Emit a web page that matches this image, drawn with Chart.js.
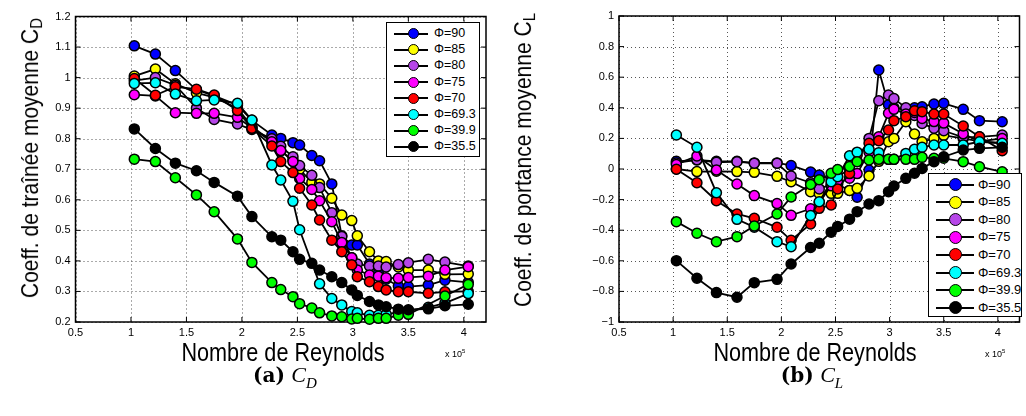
<!DOCTYPE html>
<html>
<head>
<meta charset="utf-8">
<script src="https://cdn.jsdelivr.net/npm/chart.js@4.4.1/dist/chart.umd.min.js"></script>
<style>
  body { margin: 0; background: #fff; font-family: "Liberation Sans", Arial, sans-serif; }
  #page { position: relative; width: 1026px; height: 416px; overflow: hidden; }
  canvas { position: absolute; top: 0; }
  .lbl { position: absolute; white-space: nowrap; color: #000; }
  .ytitle { font-size: 21px; transform: translate(-50%, -50%) rotate(-90deg) scale(1, 1.15); }
  .xtitle { font-size: 21px; transform: translate(-50%, -50%) scale(1.03, 1.2); }
  .ytitle sub, .xtitle sub { font-size: 15px; vertical-align: -4px; }
  .mult { font-size: 9px; }
  .mult sup { font-size: 6px; }
  .caption { font-family: "DejaVu Serif", "Liberation Serif", serif; font-size: 20px; transform: translate(-50%, -50%); }
  .caption b { font-weight: bold; }
  .caption i { font-family: "Liberation Serif", serif; font-size: 22px; }
  .caption i sub { font-size: 15px; }
  .legend { position: absolute; background: #fff; border: 1px solid #000; box-sizing: border-box; }
  .row { position: absolute; left: 0; height: 16px; }
  .row .line { position: absolute; height: 2px; background: #000; }
  .row .dot { position: absolute; border: 1.5px solid #000; border-radius: 50%; box-sizing: border-box; }
  .row span { position: absolute; }
</style>
</head>
<body>
<div id="page">
  <canvas id="cdChart" width="500" height="416" style="left:0"></canvas>
  <canvas id="clChart" width="526" height="416" style="left:500px"></canvas>

  <div class="lbl ytitle" style="left:31px; top:158px">Coeff. de traînée moyenne C<sub>D</sub></div>
  <div class="lbl ytitle" style="left:524px; top:160px">Coeff. de portance moyenne C<sub>L</sub></div>
  <div class="lbl xtitle" style="left:283px; top:353px">Nombre de Reynolds</div>
  <div class="lbl xtitle" style="left:815px; top:353px">Nombre de Reynolds</div>
  <div class="lbl mult" style="left:445px; top:348px">x 10<sup>5</sup></div>
  <div class="lbl mult" style="left:985px; top:348px">x 10<sup>5</sup></div>
  <div class="lbl caption" style="left:285px; top:377px"><b>(a)</b> <i>C<sub>D</sub></i></div>
  <div class="lbl caption" style="left:812px; top:377px"><b>(b)</b> <i>C<sub>L</sub></i></div>
</div>

<script>
// Nombre de Reynolds (x 10^5), points communs aux deux graphes
const reynolds = [1.03, 1.22, 1.40, 1.59, 1.75, 1.96, 2.09, 2.27, 2.35, 2.46, 2.52, 2.63, 2.70,
                  2.81, 2.90, 2.99, 3.04, 3.15, 3.23, 3.30, 3.41, 3.50, 3.68, 3.83, 4.04];

const phiLabels = ['\u03A6=90', '\u03A6=85', '\u03A6=80', '\u03A6=75', '\u03A6=70', '\u03A6=69.3', '\u03A6=39.9', '\u03A6=35.5'];
const phiColors = ['#0000ff', '#ffff00', '#b646e8', '#ff00ff', '#ff0000', '#00ffff', '#00ff00', '#000000'];

const xTicks = [0.5, 1, 1.5, 2, 2.5, 3, 3.5, 4];
const cdTicks = [0.2, 0.3, 0.4, 0.5, 0.6, 0.7, 0.8, 0.9, 1, 1.1, 1.2];
const clTicks = [-1, -0.8, -0.6, -0.4, -0.2, 0, 0.2, 0.4, 0.6, 0.8, 1];

// Coefficient de traînée moyen C_D
const cd90   = [1.104, 1.077, 1.023, 0.960, 0.940, 0.910, 0.860, 0.812, 0.801, 0.787, 0.779, 0.745, 0.728,
                0.652, 0.482, 0.452, 0.452, 0.390, 0.360, 0.340, 0.318, 0.316, 0.321, 0.337, 0.330];
const cd85   = [1.005, 1.028, 0.980, 0.950, 0.935, 0.900, 0.840, 0.790, 0.760, 0.730, 0.700, 0.657, 0.652,
                0.605, 0.550, 0.532, 0.482, 0.430, 0.400, 0.398, 0.380, 0.370, 0.370, 0.356, 0.357];
const cd80   = [0.990, 1.000, 0.975, 0.900, 0.863, 0.848, 0.830, 0.800, 0.775, 0.741, 0.712, 0.680, 0.640,
                0.558, 0.480, 0.410, 0.390, 0.383, 0.383, 0.380, 0.388, 0.394, 0.405, 0.396, 0.383];
const cd75   = [0.944, 0.940, 0.885, 0.883, 0.883, 0.870, 0.835, 0.790, 0.761, 0.725, 0.670, 0.634, 0.597,
                0.528, 0.460, 0.410, 0.370, 0.354, 0.350, 0.345, 0.343, 0.346, 0.350, 0.370, 0.381];
const cd70   = [0.997, 0.942, 0.970, 0.962, 0.943, 0.892, 0.834, 0.776, 0.725, 0.689, 0.638, 0.583, 0.534,
                0.468, 0.430, 0.387, 0.348, 0.332, 0.316, 0.305, 0.299, 0.299, 0.294, 0.299, 0.300];
const cd69_3 = [0.981, 0.983, 0.946, 0.924, 0.927, 0.916, 0.861, 0.714, 0.665, 0.595, 0.502, null, 0.325,
                0.277, 0.256, 0.234, 0.230, 0.222, 0.222, 0.225, 0.232, 0.238, 0.248, 0.262, 0.293];
const cd39_9 = [0.733, 0.725, 0.672, 0.616, 0.561, 0.472, 0.395, 0.329, 0.306, 0.283, 0.260, 0.246, 0.230,
                0.220, 0.217, 0.210, 0.212, 0.209, 0.212, 0.212, 0.222, 0.225, null, 0.285, 0.323];
const cd35_5 = [0.832, 0.768, 0.720, 0.695, 0.657, 0.612, 0.545, 0.479, 0.468, 0.430, 0.405, 0.392, 0.370,
                0.348, 0.329, 0.305, 0.287, 0.267, 0.256, 0.250, 0.242, 0.240, 0.243, 0.253, 0.258];

// Coefficient de portance moyen C_L
const cl90   = [0.050, 0.060, 0.050, 0.050, 0.040, 0.040, 0.023, -0.020, -0.040, -0.070, -0.100, -0.140, -0.185,
                -0.007, 0.647, 0.420, 0.400, 0.390, 0.400, 0.407, 0.425, 0.429, 0.390, 0.316, 0.309];
const cl85   = [0.000, -0.017, -0.015, -0.017, -0.022, -0.048, -0.083, -0.148, -0.160, -0.159, -0.159, -0.140, -0.126,
                -0.046, 0.050, 0.178, 0.200, 0.309, 0.229, 0.178, 0.200, 0.220, 0.200, 0.180, 0.170];
const cl80   = [0.040, 0.060, 0.044, 0.048, 0.037, 0.037, -0.046, -0.090, -0.130, -0.100, -0.050, 0.000, 0.050,
                0.200, 0.446, 0.484, 0.460, 0.400, 0.350, 0.298, 0.266, 0.250, 0.207, 0.210, 0.222];
const cl75   = [0.030, 0.085, -0.007, -0.098, -0.174, -0.226, -0.303, -0.260, -0.220, -0.110, -0.090, -0.060, -0.030,
                0.110, 0.210, 0.364, 0.390, 0.360, 0.370, 0.330, 0.310, 0.300, 0.230, 0.180, 0.200];
const cl70   = [-0.002, -0.090, -0.207, -0.294, -0.322, -0.381, -0.466, -0.359, -0.257, -0.235, -0.130, -0.030, 0.090,
                0.168, 0.185, 0.255, 0.316, 0.342, 0.381, 0.375, 0.359, 0.359, 0.281, 0.211, 0.120];
const cl69_3 = [0.222, 0.142, -0.155, -0.329, -0.380, -0.475, -0.508, -0.304, -0.214, -0.083, -0.050, 0.086, 0.110,
                0.129, 0.107, 0.063, 0.063, 0.102, 0.129, 0.142, 0.157, 0.157, 0.157, 0.178, 0.168];
const cl39_9 = [-0.344, -0.420, -0.475, -0.442, -0.373, -0.294, -0.183, -0.101, -0.070, -0.028, -0.004, 0.017, 0.048,
                0.059, 0.063, 0.063, 0.063, 0.063, 0.063, 0.076, 0.070, 0.070, 0.048, 0.015, -0.018];
const cl35_5 = [-0.599, -0.714, -0.808, -0.838, -0.743, -0.721, -0.621, -0.513, -0.485, -0.413, -0.375, -0.328, -0.279,
                -0.229, -0.207, -0.148, -0.111, -0.061, -0.028, 0.004, 0.048, 0.080, 0.124, 0.135, 0.142];

const cdSeries = [cd90, cd85, cd80, cd75, cd70, cd69_3, cd39_9, cd35_5];
const clSeries = [cl90, cl85, cl80, cl75, cl70, cl69_3, cl39_9, cl35_5];

function fmt(v) {
    const r = Math.round(v * 10) / 10;
    return (r < 0 ? '\u2212' : '') + String(Math.abs(r));
}

// grille pointillee, cadre noir + graduations vers l'interieur (style matlab)
const framePlugin = {
    id: 'frame',
    beforeDatasetsDraw(chart) {
        const { ctx, chartArea: a, scales } = chart;
        ctx.save();
        ctx.strokeStyle = '#555';
        ctx.lineWidth = 1;
        ctx.setLineDash([1, 3]);
        ctx.beginPath();
        scales.x.ticks.forEach(t => {
            const px = Math.round(scales.x.getPixelForValue(t.value)) + 0.5;
            ctx.moveTo(px, a.top); ctx.lineTo(px, a.bottom);
        });
        scales.y.ticks.forEach(t => {
            const py = Math.round(scales.y.getPixelForValue(t.value)) + 0.5;
            ctx.moveTo(a.left, py); ctx.lineTo(a.right, py);
        });
        ctx.stroke();
        ctx.setLineDash([]);

        ctx.strokeStyle = '#000';
        ctx.lineWidth = 1.5;
        ctx.strokeRect(a.left, a.top, a.right - a.left, a.bottom - a.top);
        ctx.lineWidth = 1;
        ctx.beginPath();
        scales.x.ticks.forEach(t => {
            const px = scales.x.getPixelForValue(t.value);
            ctx.moveTo(px, a.bottom); ctx.lineTo(px, a.bottom - 5);
            ctx.moveTo(px, a.top); ctx.lineTo(px, a.top + 5);
        });
        scales.y.ticks.forEach(t => {
            const py = scales.y.getPixelForValue(t.value);
            ctx.moveTo(a.left, py); ctx.lineTo(a.left + 5, py);
            ctx.moveTo(a.right, py); ctx.lineTo(a.right - 5, py);
        });
        ctx.stroke();
        ctx.restore();
    }
};

function makeChart(id, series, yMin, yMax, yTicks, pad, yWidth, radius) {
    const datasets = series.map((vals, i) => ({
        label: phiLabels[i],
        data: reynolds.map((x, j) => ({ x: x, y: vals[j] })),
        borderColor: '#000',
        borderWidth: 1.8,
        backgroundColor: phiColors[i],
        pointBackgroundColor: phiColors[i],
        pointBorderColor: '#000',
        pointBorderWidth: 1.5,
        pointRadius: radius,
        spanGaps: true,
        clip: false,
        order: -i
    }));

    return new Chart(document.getElementById(id), {
        type: 'line',
        data: { datasets },
        options: {
            responsive: false,
            animation: false,
            layout: { padding: pad },
            plugins: { legend: { display: false }, tooltip: { enabled: false } },
            scales: {
                x: {
                    type: 'linear', min: 0.5, max: 4.2,
                    afterBuildTicks: s => { s.ticks = xTicks.map(v => ({ value: v })); },
                    afterFit: s => { s.height = 20; },
                    grid: { display: false, drawTicks: false },
                    border: { display: false },
                    ticks: { color: '#000', font: { family: 'Liberation Sans', size: 11 }, padding: 4, maxRotation: 0, callback: fmt }
                },
                y: {
                    type: 'linear', min: yMin, max: yMax,
                    afterBuildTicks: s => { s.ticks = yTicks.map(v => ({ value: v })); },
                    afterFit: s => { s.width = yWidth; },
                    grid: { display: false, drawTicks: false },
                    border: { display: false },
                    ticks: { color: '#000', font: { family: 'Liberation Sans', size: 11 }, padding: 5, callback: fmt }
                }
            }
        },
        plugins: [framePlugin]
    });
}

makeChart('cdChart', cdSeries, 0.2, 1.2, cdTicks, { left: 0, right: 14, top: 16.5, bottom: 74 }, 75.5, 5);
makeChart('clChart', clSeries, -1, 1, clTicks, { left: 0, right: 2, top: 16, bottom: 74 }, 119, 5);

// legendes
function buildLegend(left, top, width, height, rowH, firstRow, lineX, lineW, dotX, dotD, textX, fontSize) {
    const box = document.createElement('div');
    box.className = 'legend';
    box.style.cssText = `left:${left}px;top:${top}px;width:${width}px;height:${height}px`;
    phiLabels.forEach((label, i) => {
        const row = document.createElement('div');
        row.className = 'row';
        row.style.top = (firstRow + i * rowH - 8) + 'px';
        row.style.width = width + 'px';
        row.innerHTML =
            `<div class="line" style="left:${lineX}px;width:${lineW}px;top:7px"></div>` +
            `<div class="dot" style="left:${dotX - dotD / 2}px;top:${8 - dotD / 2}px;width:${dotD}px;height:${dotD}px;background:${phiColors[i]}"></div>` +
            `<span style="left:${textX}px;top:${8 - fontSize * 0.6}px;font-size:${fontSize}px">${label}</span>`;
        box.appendChild(row);
    });
    document.getElementById('page').appendChild(box);
}

buildLegend(386, 22, 94, 135, 16.2, 10.5, 7, 34, 26, 11, 47, 12.5);
buildLegend(928, 173, 94, 144, 17.6, 10.5, 7, 38, 26, 13, 49, 13);
</script>
</body>
</html>
